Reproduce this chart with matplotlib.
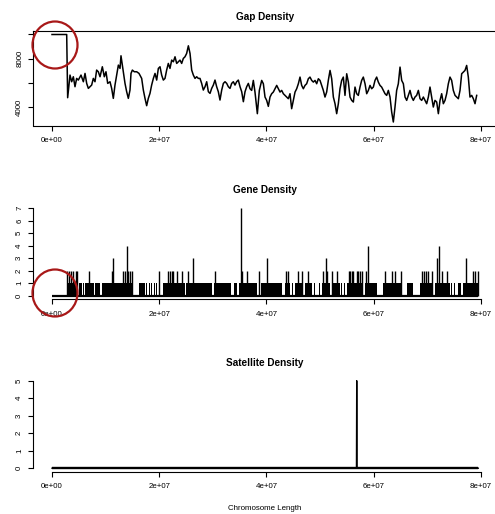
import matplotlib
matplotlib.use("Agg")
import matplotlib.pyplot as plt
from matplotlib.patches import Ellipse

plt.rcParams["font.family"] = ["Liberation Sans", "DejaVu Sans"]

# ---------------- data (positions in Mb) ----------------
gap_pos = [0.0, 2.74, 2.92, 3.36, 3.67, 3.98, 4.29, 4.60, 4.91, 5.41, 5.85, 6.16, 6.47, 6.78,
           7.09, 7.40, 7.71, 8.02, 8.33, 8.64, 8.96, 9.39, 9.76, 10.07, 10.39, 10.82, 11.13,
           11.44, 11.75, 12.06, 12.38, 12.69, 12.87, 13.12, 13.37, 13.62, 13.93, 14.24, 14.55,
           14.74, 14.99, 15.36, 15.80, 16.23, 16.73, 17.04, 17.35, 17.66, 17.97, 18.28, 18.59,
           18.91, 19.22, 19.53, 19.84, 20.15, 20.46, 20.77, 21.08, 21.39, 21.70, 22.01, 22.33,
           22.64, 22.95, 23.26, 23.57, 23.88, 24.19, 24.50, 24.81, 25.12, 25.44, 25.75, 26.06,
           26.37, 26.68, 26.99, 27.30, 27.61, 27.92, 28.23, 28.55, 28.86, 29.17, 29.48, 29.79,
           30.10, 30.41, 30.72, 31.03, 31.34, 31.66, 31.97, 32.28, 32.59, 32.90, 33.21, 33.52,
           33.83, 34.14, 34.45, 34.76, 35.08, 35.39, 35.70, 36.01, 36.32, 36.63, 36.94, 37.25,
           37.56, 37.87, 38.31, 38.68, 39.12, 39.43, 39.74, 40.05, 40.36, 40.67, 40.98, 41.29,
           41.60, 41.92, 42.23, 42.54, 42.85, 43.16, 43.47, 43.78, 44.09, 44.40, 44.71, 45.02,
           45.34, 45.65, 45.96, 46.27, 46.58, 46.89, 47.20, 47.51, 47.82, 48.13, 48.45, 48.76,
           49.07, 49.38, 49.69, 50.00, 50.31, 50.62, 50.93, 51.24, 51.55, 51.87, 52.18, 52.49,
           52.80, 53.11, 53.42, 53.73, 54.04, 54.35, 54.66, 54.98, 55.29, 55.60, 55.91, 56.22,
           56.53, 56.84, 57.15, 57.46, 57.77, 58.08, 58.40, 58.71, 59.02, 59.33, 59.64, 59.95,
           60.26, 60.57, 60.88, 61.19, 61.50, 61.82, 62.13, 62.44, 62.75, 63.06, 63.37, 63.68,
           63.99, 64.30, 64.61, 64.93, 65.24, 65.55, 65.86, 66.17, 66.48, 66.79, 67.10, 67.41,
           67.72, 68.03, 68.35, 68.66, 68.97, 69.28, 69.59, 69.90, 70.21, 70.52, 70.83, 71.14,
           71.45, 71.77, 72.08, 72.39, 72.70, 73.01, 73.32, 73.63, 73.94, 74.25, 74.56, 74.87,
           75.19, 75.50, 75.81, 76.12, 76.43, 76.74, 77.05, 77.36, 77.67, 77.98, 78.30, 78.61,
           78.92, 79.23]
gap_val = [10000, 10000, 4795, 6658, 6110, 6521, 5699, 6384, 6247, 6658, 6110, 6795, 5973, 5562,
           5699, 5836, 6384, 6110, 7069, 6932, 6521, 7343, 6521, 6932, 5973, 6110, 5562,
           4740, 5836, 6658, 7480, 7206, 8248, 7480, 6658, 5973, 5288, 4740, 5425,
           6795, 7069, 6932, 6932, 6795, 6384, 5425, 4740, 4137, 4740, 5151, 5836,
           6384, 6795, 6247, 7206, 7343, 6658, 6247, 6384, 7069, 7617, 7206, 7891,
           7754, 8165, 7617, 7754, 7891, 7617, 8028, 8165, 8439, 9069, 8439, 7069,
           6658, 6384, 6521, 6384, 6384, 5973, 5425, 5699, 6110, 5288, 5151, 5562,
           5836, 6247, 5699, 5288, 4603, 5425, 5973, 6110, 5973, 5699, 5562, 5973,
           6110, 5836, 6110, 6247, 5699, 5288, 4466, 5288, 5699, 5973, 5534, 5397,
           6219, 5260, 3479, 5397, 6219, 5945, 4849, 4575, 4082, 4849, 5123, 5260,
           5534, 5808, 5534, 5260, 5397, 5123, 4986, 4849, 4712, 5123, 3890, 4575,
           5260, 5534, 5945, 6493, 5808, 5534, 5808, 5945, 6356, 6493, 6219, 6082,
           6219, 5945, 6356, 6219, 5808, 5397, 4849, 5260, 6219, 7041, 6356, 4849,
           4301, 3479, 4301, 5534, 6219, 6493, 4986, 6767, 6082, 4849, 4575, 4438,
           5671, 5123, 4986, 5671, 6219, 6493, 5945, 5123, 5397, 5808, 5534, 5671,
           6219, 6493, 6082, 5808, 5671, 5397, 5123, 4986, 5397, 4849, 3616, 2794,
           4027, 5397, 5945, 7315, 6219, 5945, 4849, 4575, 4986, 5397, 4849, 4575,
           4849, 4986, 5397, 4712, 4575, 4849, 4575, 4301, 4849, 5671, 4849, 4027,
           4575, 4438, 3479, 4575, 5123, 4301, 4575, 5123, 5945, 6493, 6219, 5397,
           4986, 4849, 4712, 5397, 6767, 6904, 7041, 7452, 6493, 4849, 4986, 4712,
           4301, 4986]

# gene counts: stretches holding one gene per bin, and bins with two or more
gene_single_runs = [(2.74, 4.91), (5.10, 5.53), (5.72, 6.03), (6.22, 7.90), (8.02, 8.96),
                    (9.39, 10.40), (10.50, 12.60), (12.70, 15.17), (16.29, 16.90), (17.00, 17.35),
                    (17.60, 17.72), (18.10, 18.22), (18.55, 18.65), (19.05, 19.15), (19.45, 19.55),
                    (19.90, 20.00), (20.30, 20.40), (20.77, 22.90), (23.00, 24.80), (24.95, 26.40),
                    (26.50, 29.79), (30.29, 31.50), (31.60, 33.40), (34.02, 34.45), (34.95, 36.30),
                    (36.40, 38.19), (39.00, 42.85), (43.47, 44.09), (44.30, 44.40), (44.80, 44.90),
                    (45.34, 46.89), (47.20, 48.45), (48.90, 49.00), (49.40, 49.50), (49.85, 49.95),
                    (50.31, 51.87), (52.49, 53.73), (54.00, 54.10), (54.50, 54.60), (54.97, 58.08),
                    (58.40, 60.57), (61.82, 65.24), (66.17, 67.41), (67.70, 67.80), (68.20, 68.30),
                    (68.66, 70.83), (71.45, 74.25), (74.50, 74.60), (75.00, 75.20), (75.70, 76.30),
                    (76.74, 79.54)]
gene_peak_pos = [2.86, 3.17, 3.54, 3.98, 4.42, 4.60, 6.97, 11.13, 11.44, 13.31, 13.62, 13.93,
                 14.24, 14.55, 14.86, 19.96, 21.70, 22.01, 22.33, 22.64, 23.26, 24.19, 25.44,
                 26.37, 30.41, 35.20, 35.51, 36.44, 38.55, 40.20, 43.70, 44.09, 45.96, 46.58,
                 47.82, 50.62, 51.10, 51.37, 52.18, 53.23, 55.41, 55.60, 56.03, 56.22, 56.84,
                 57.02, 57.46, 57.77, 58.52, 59.02, 62.20, 63.37, 63.99, 65.08, 68.96, 69.40,
                 69.78, 70.10, 70.83, 71.80, 72.20, 72.69, 73.70, 77.30, 78.60, 79.00, 79.40]
gene_peak_cnt = [2, 2, 2, 2, 2, 2, 2, 2, 3, 2, 2, 4,
                 2, 2, 2, 2, 2, 2, 2, 2, 2, 2, 2,
                 3, 2, 7, 2, 2, 2, 3, 2, 2, 2, 2,
                 2, 2, 3, 2, 2, 2, 2, 2, 2, 2, 2,
                 2, 2, 2, 2, 4, 2, 2, 2, 2, 2, 2,
                 2, 2, 2, 3, 4, 2, 2, 3, 2, 2, 2]
gene_span = (0.0, 79.54)

sat_pos = [0.0, 56.80, 56.85, 56.90, 79.54]
sat_val = [0, 0, 5, 0, 0]

x_ticks = [0, 2e7, 4e7, 6e7, 8e7]
x_tick_labels = ["0e+00", "2e+07", "4e+07", "6e+07", "8e+07"]
gap_ticks = [4000, 6000, 8000, 10000]
gap_tick_labels = ["4000", "", "8000", ""]
gene_ticks = [0, 1, 2, 3, 4, 5, 6, 7]
sat_ticks = [0, 1, 2, 3, 4, 5]

titles = ["Gap Density", "Gene Density", "Satellite Density"]
x_label = "Chromosome Length"

MB = 1e6

# ---------------- figure ----------------
W, H = 495, 514
fig = plt.figure(figsize=(W / 100, H / 100), dpi=100)

left = 33 / W
width = (497 - 33) / W
ph = 94.5 / H
tops = [31, 204.8, 377.2]
axes = [fig.add_axes([left, 1 - (t + 94.5) / H, width, ph]) for t in tops]
xlim = (-3.545 * MB, 83.02 * MB)

FS = 5.7
LW = 0.8


def style(ax, yticks, ylabels, full_box):
    ax.set_xlim(*xlim)
    ax.set_xticks(x_ticks)
    ax.set_xticklabels(x_tick_labels, fontsize=FS)
    ax.set_yticks(yticks)
    ax.set_yticklabels(ylabels, fontsize=FS, rotation=90, va="center")
    ax.tick_params(direction="out", length=3.6, width=LW, pad=4.5, color="black")
    ax.tick_params(axis="y", pad=3.5)
    for s in ax.spines.values():
        s.set_linewidth(LW)
        s.set_color("black")
    if full_box:
        return
    ax.spines["top"].set_visible(False)
    ax.spines["right"].set_visible(False)
    ax.spines["bottom"].set_bounds(x_ticks[0], x_ticks[-1])
    ax.spines["left"].set_bounds(yticks[0], yticks[-1])


# Gap density
ax = axes[0]
ax.plot([p * MB for p in gap_pos], gap_val, color="black", lw=1.1)
ax.set_ylim(2506, 10288)
style(ax, gap_ticks, gap_tick_labels, True)

# Gene density
ax = axes[1]
ax.broken_barh([(s * MB, (e - s) * MB) for s, e in gene_single_runs], (0, 1),
               facecolor="black", edgecolor="none")
ax.vlines([p * MB for p in gene_peak_pos], 0, gene_peak_cnt, color="black", lw=1.0)
ax.hlines(0, gene_span[0] * MB, gene_span[1] * MB, color="black", lw=1.6)
ax.set_ylim(-0.28, 7.28)
style(ax, gene_ticks, [str(t) for t in gene_ticks], False)

# Satellite density
ax = axes[2]
ax.plot([p * MB for p in sat_pos], sat_val, color="black", lw=1.0)
ax.hlines(0, sat_pos[0] * MB, sat_pos[-1] * MB, color="black", lw=1.7)
ax.set_ylim(-0.2, 5.2)
style(ax, sat_ticks, [str(t) for t in sat_ticks], False)
ax.set_xlabel(x_label, fontsize=FS, labelpad=11)

for ax, t in zip(axes, titles):
    ax.annotate(t, xy=(0.5, 1), xycoords="axes fraction", xytext=(0, 14.5 * 0.72),
                textcoords="offset points", ha="center", va="center",
                fontsize=7.2, fontweight="bold")

# highlight circles around the chromosome start
for cy in (45, 293):
    fig.add_artist(Ellipse((55 / W, 1 - cy / H), 45 / W, 47 / H,
                           transform=fig.transFigure, fill=False,
                           edgecolor="#a81818", lw=1.6))

fig.savefig("out.png", dpi=100)
